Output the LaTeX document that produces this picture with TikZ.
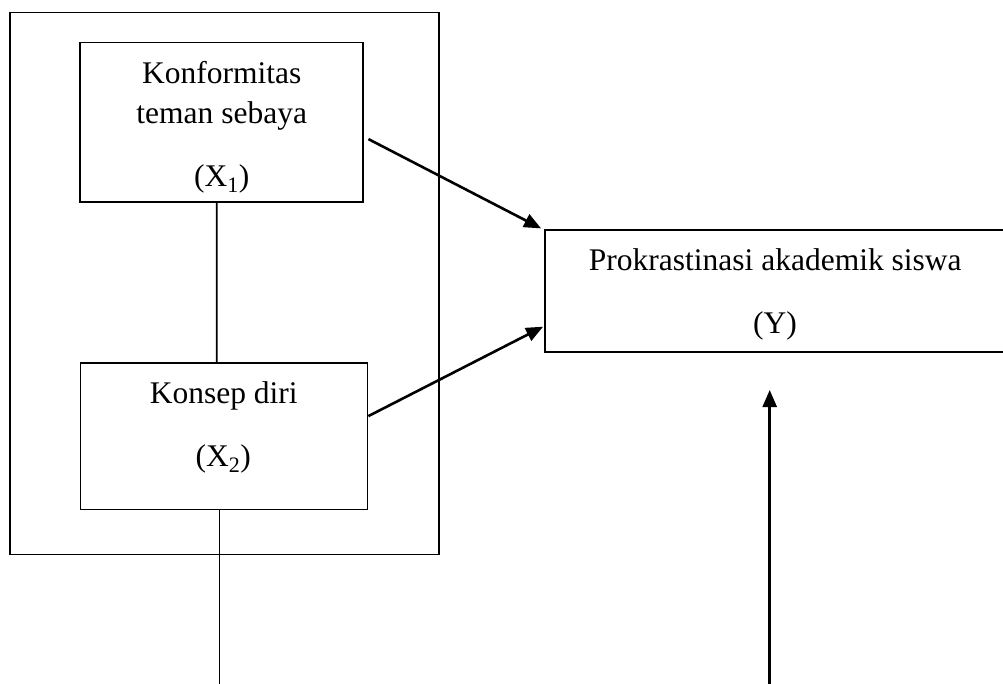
\documentclass[tikz,border=0pt]{standalone}
\usepackage{fontspec}
\setmainfont{Liberation Serif}
\usetikzlibrary{arrows.meta,calc}
\begin{document}
\begin{tikzpicture}[x=1pt,y=-1pt,
  boxnode/.style={draw,rectangle,line width=1.8pt,inner sep=0pt},
  txt/.style={anchor=base,inner sep=0pt,font=\fontsize{31.5}{36}\selectfont},
  plainline/.style={line width=1.6pt},
  arr/.style={line width=2.6pt,-{Triangle[length=17pt,width=14pt]}}]
\fill[white] (0,0) rectangle (1003,684);
\useasboundingbox (0,0) rectangle (1003,684);
\clip (0,0) rectangle (1003,684);
% boxes
\node[boxnode,minimum width=429pt,minimum height=542pt] (outer) at (224.5,283.5) {};
\node[boxnode,minimum width=282.5pt,minimum height=159.4pt] (box1) at (221.6,122.3) {};
\node[boxnode,minimum width=287pt,minimum height=146.8pt] (box2) at (224,436.1) {};
\node[boxnode,minimum width=465pt,minimum height=121.8pt] (Y) at (777.5,290.9) {};
% texts
\node[txt] (t1a) at (221.7,83.3) {Konformitas};
\node[txt] (t1b) at (221.7,123.3) {teman sebaya};
\node[txt] (t1c) at (221.7,186.7) {(X\textsubscript{1})};
\node[txt] (t2a) at (223.8,403.3) {Konsep diri};
\node[txt] (t2b) at (223.3,466.7) {(X\textsubscript{2})};
\node[txt] (tya) at (775.3,271) {Prokrastinasi akademik siswa};
\node[txt] (tyb) at (775,333.3) {(Y)};
% free ends
\coordinate (bot1) at (219.3,690);
\coordinate (bot2) at (769.7,690);
\coordinate (tipY) at (769.7,390);
% connectors
\draw[plainline] ([xshift=-4.9pt]box1.south) -- ([xshift=-7.3pt]box2.north);
\draw[plainline] (box2.south -| bot1) -- (bot1);
\draw[arr] (bot2) -- (tipY);
\draw[arr] ($(box1.east)+(4.7,16.8)$) -- ($(Y.north west)+(-3,-0.7)$);
\draw[arr] ($(box2.east)+(0,-20)$) -- ($(Y.south west)+(-1,-26)$);
\end{tikzpicture}
\end{document}
